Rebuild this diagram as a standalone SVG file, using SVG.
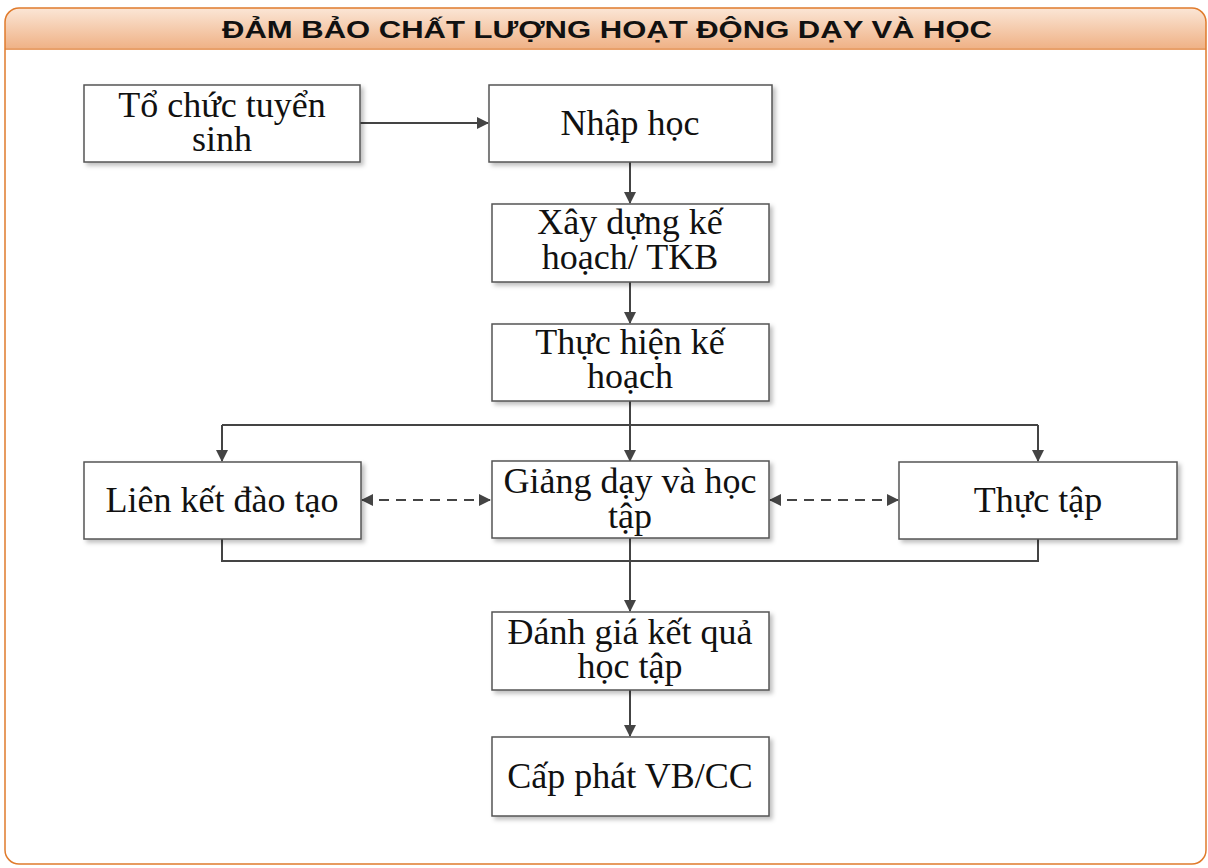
<svg xmlns="http://www.w3.org/2000/svg" width="1208" height="868" viewBox="0 0 1208 868">
<defs>
<linearGradient id="hdr" x1="0" y1="0" x2="0" y2="1">
<stop offset="0" stop-color="#fbe6d6"/>
<stop offset="1" stop-color="#efb185"/>
</linearGradient>
<filter id="sh" x="-5%" y="-5%" width="115%" height="125%">
<feDropShadow dx="3" dy="3" stdDeviation="2" flood-color="#000" flood-opacity="0.25"/>
</filter>
<marker id="ah" viewBox="0 0 12 12" refX="11" refY="6" markerWidth="12" markerHeight="12" markerUnits="userSpaceOnUse" orient="auto-start-reverse">
<path d="M0,0 L12,6 L0,12 Z" fill="#444"/>
</marker>
<clipPath id="frameclip"><rect x="5" y="8" width="1201" height="856" rx="14"/></clipPath>
</defs>
<style>
.box{fill:#fff;stroke:#555;stroke-width:1.5;filter:url(#sh)}
.t{font-family:"Liberation Serif","Times New Roman",serif;font-size:36px;fill:#111;text-anchor:middle}
.ln{fill:none;stroke:#444;stroke-width:2}
.arr{fill:none;stroke:#444;stroke-width:2;marker-end:url(#ah)}
.dash{fill:none;stroke:#444;stroke-width:2;stroke-dasharray:10 7;marker-start:url(#ah);marker-end:url(#ah)}
</style>
<rect x="0" y="0" width="1208" height="868" fill="#fff"/>
<g id="frame">
<rect x="5" y="8" width="1201" height="41" fill="url(#hdr)" clip-path="url(#frameclip)"/>
<line x1="5" y1="49" x2="1206" y2="49" stroke="#e8a06a" stroke-width="2"/>
<rect x="5" y="8" width="1201" height="856" rx="14" fill="none" stroke="#e07b2c" stroke-width="1.5"/>
<text x="607" y="38" text-anchor="middle" font-family="'Liberation Sans',Arial,sans-serif" font-weight="bold" font-size="24" fill="#111" textLength="770" lengthAdjust="spacingAndGlyphs">ĐẢM BẢO CHẤT LƯỢNG HOẠT ĐỘNG DẠY VÀ HỌC</text>
</g>
<g id="connectors">
<path class="arr" d="M360,123 H488"/>
<path class="arr" d="M630,162 V203"/>
<path class="arr" d="M630,282 V323"/>
<path class="ln" d="M630,401 V425"/>
<path class="ln" d="M222,425 H1038"/>
<path class="arr" d="M222,425 V461"/>
<path class="arr" d="M630,425 V461"/>
<path class="arr" d="M1038,425 V461"/>
<path class="dash" d="M362,500 H490"/>
<path class="dash" d="M770,500 H898"/>
<path class="ln" d="M222,539 V561 H1038 V539"/>
<path class="arr" d="M630,538 V611"/>
<path class="arr" d="M630,690 V736"/>
</g>
<g id="n1"><rect class="box" x="84" y="85" width="276" height="77"/><text class="t" x="222" y="117">Tổ chức tuyển</text><text class="t" x="222" y="151">sinh</text></g>
<g id="n2"><rect class="box" x="489" y="85" width="283" height="77"/><text class="t" x="630" y="135">Nhập học</text></g>
<g id="n3"><rect class="box" x="492" y="204" width="277" height="78"/><text class="t" x="630" y="234">Xây dựng kế</text><text class="t" x="630" y="269">hoạch/ TKB</text></g>
<g id="n4"><rect class="box" x="492" y="324" width="277" height="77"/><text class="t" x="630" y="354">Thực hiện kế</text><text class="t" x="630" y="388">hoạch</text></g>
<g id="n5"><rect class="box" x="84" y="462" width="277" height="77"/><text class="t" x="222" y="512">Liên kết đào tạo</text></g>
<g id="n6"><rect class="box" x="492" y="461" width="277" height="77"/><text class="t" x="630" y="493">Giảng dạy và học</text><text class="t" x="630" y="528">tập</text></g>
<g id="n7"><rect class="box" x="899" y="462" width="278" height="77"/><text class="t" x="1038" y="512">Thực tập</text></g>
<g id="n8"><rect class="box" x="492" y="612" width="277" height="78"/><text class="t" x="630" y="644">Đánh giá kết quả</text><text class="t" x="630" y="678">học tập</text></g>
<g id="n9"><rect class="box" x="492" y="737" width="277" height="79"/><text class="t" x="630" y="788">Cấp phát VB/CC</text></g>
</svg>
